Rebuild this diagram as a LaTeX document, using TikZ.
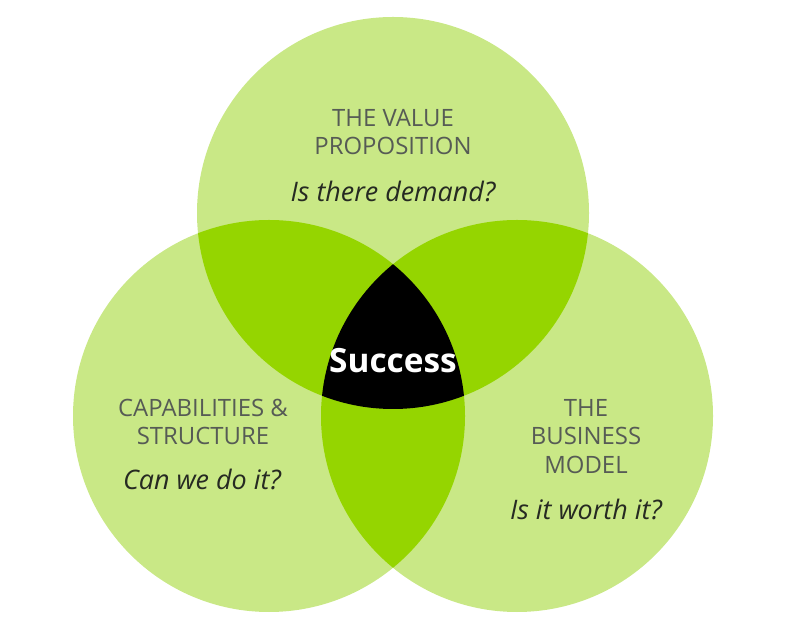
\documentclass[tikz,border=0pt]{standalone}
\usepackage{fontspec}
\setmainfont{Open Sans}
\usepackage{tikz}

\definecolor{lightgreen}{HTML}{C9E886}
\definecolor{midgreen}{HTML}{95D500}
\definecolor{capgray}{HTML}{565B55}
\definecolor{asktext}{HTML}{262A22}

\tikzset{
  title/.style={anchor=base, text=capgray, inner sep=0pt, font=\fontsize{13.6}{16}\selectfont},
  ask/.style={anchor=base, text=asktext, inner sep=0pt, font=\fontsize{15.3}{18}\selectfont\itshape},
}

\begin{document}
\begin{tikzpicture}
\useasboundingbox (0, 0) rectangle (15.86, 12.42);
\fill[lightgreen] (7.86, 8.16) circle (3.92);
\fill[lightgreen] (5.38, 4.10) circle (3.92);
\fill[lightgreen] (10.34, 4.10) circle (3.92);
\begin{scope}
\clip (7.86, 8.16) circle (3.92);
\fill[midgreen] (5.38, 4.10) circle (3.92);
\fill[midgreen] (10.34, 4.10) circle (3.92);
\end{scope}
\begin{scope}
\clip (5.38, 4.10) circle (3.92);
\fill[midgreen] (10.34, 4.10) circle (3.92);
\clip (10.34, 4.10) circle (3.92);
\fill[black] (7.86, 8.16) circle (3.92);
\end{scope}
\node[title] (valueA) at (7.86, 9.88) {THE VALUE};
\node[title] (valueB) at (7.86, 9.32) {PROPOSITION};
\node[ask] (valueQ) at (7.86, 8.38) {Is there demand?};
\node[title] (capA) at (4.06, 4.08) {CAPABILITIES \&};
\node[title] (capB) at (4.06, 3.52) {STRUCTURE};
\node[ask] (capQ) at (4.04, 2.62) {Can we do it?};
\node[title] (bizA) at (11.72, 4.08) {THE};
\node[title] (bizB) at (11.72, 3.52) {BUSINESS};
\node[title] (bizC) at (11.72, 2.94) {MODEL};
\node[ask] (bizQ) at (11.72, 2.02) {Is it worth it?};
\node[anchor=base, text=white, inner sep=0pt, font=\fontsize{19}{22}\selectfont\bfseries] (success) at (7.86, 4.96) {Success};
\end{tikzpicture}
\end{document}
